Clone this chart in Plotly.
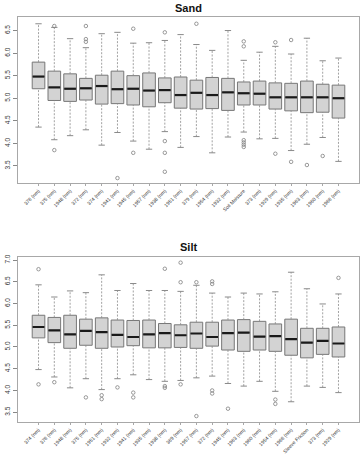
import plotly.graph_objects as go

# ---------------- data ----------------
sand_labels = ["376 (nm)", "375 (nm)", "1948 (nm)", "372 (nm)", "374 (nm)", "1941 (nm)",
               "1945 (nm)", "1957 (nm)", "1938 (nm)", "1951 (nm)", "379 (nm)", "1954 (nm)",
               "1932 (nm)", "Soil Moisture", "373 (nm)", "1929 (nm)", "1935 (nm)",
               "1963 (nm)", "1960 (nm)", "1966 (nm)"]
sand_q1 = [5.21, 4.95, 4.93, 4.96, 4.87, 4.88, 4.85, 4.81, 4.90, 4.78,
           4.76, 4.77, 4.73, 4.85, 4.85, 4.76, 4.72, 4.68, 4.69, 4.56]
sand_med = [5.48, 5.24, 5.21, 5.22, 5.27, 5.20, 5.21, 5.17, 5.18, 5.07,
            5.12, 5.07, 5.13, 5.11, 5.10, 5.02, 5.02, 5.02, 5.02, 5.00]
sand_q3 = [5.80, 5.60, 5.54, 5.44, 5.51, 5.60, 5.50, 5.56, 5.45, 5.47,
           5.40, 5.46, 5.44, 5.36, 5.38, 5.34, 5.33, 5.38, 5.31, 5.29]
sand_low = [4.36, 4.08, 4.17, 4.30, 3.96, 4.24, 4.05, 3.87, 4.26, 3.91,
            4.15, 3.79, 4.14, 4.25, 4.10, 4.11, 3.84, 3.98, 4.13, 3.60]
sand_up = [6.65, 6.57, 6.32, 6.12, 6.43, 6.46, 6.22, 6.23, 6.28, 6.41,
           6.19, 6.06, 6.50, 5.84, 6.02, 6.15, 5.98, 6.33, 5.83, 5.89]
sand_out = [[], [6.60, 3.85], [], [6.60, 6.31, 6.25], [], [3.23], [6.54, 3.79], [],
            [6.46, 4.05, 3.79, 3.37], [], [6.65], [], [],
            [6.26, 6.15, 4.07, 4.02, 3.97, 3.92], [], [6.24, 3.77], [6.29, 3.59],
            [3.52], [3.72], []]

silt_labels = ["374 (nm)", "376 (nm)", "1948 (nm)", "375 (nm)", "1951 (nm)", "1932 (nm)",
               "1941 (nm)", "1935 (nm)", "1938 (nm)", "369 (nm)", "1957 (nm)", "372 (nm)",
               "1945 (nm)", "1963 (nm)", "1960 (nm)", "1954 (nm)", "1966 (nm)",
               "Sleeve Friction", "373 (nm)", "1929 (nm)"]
silt_q1 = [5.21, 5.10, 4.97, 5.04, 4.97, 5.00, 5.03, 4.98, 4.98, 4.99,
           4.97, 5.02, 4.93, 4.90, 4.93, 4.90, 4.81, 4.75, 4.83, 4.77]
silt_med = [5.46, 5.38, 5.29, 5.37, 5.34, 5.28, 5.23, 5.29, 5.32, 5.27,
            5.31, 5.23, 5.32, 5.33, 5.24, 5.25, 5.18, 5.10, 5.14, 5.08]
silt_q3 = [5.73, 5.68, 5.73, 5.64, 5.67, 5.62, 5.61, 5.62, 5.54, 5.51,
           5.57, 5.57, 5.62, 5.63, 5.59, 5.53, 5.64, 5.43, 5.43, 5.46]
silt_low = [4.48, 4.31, 4.06, 4.27, 4.02, 4.27, 4.36, 4.25, 4.21, 4.23,
            4.29, 4.33, 4.16, 4.10, 4.21, 3.98, 3.74, 4.10, 4.07, 3.95]
silt_up = [6.43, 6.15, 6.29, 6.25, 6.66, 6.30, 6.46, 6.30, 6.30, 6.28,
           6.42, 6.24, 6.15, 6.24, 6.22, 6.27, 6.72, 6.34, 5.99, 6.22]
silt_out = [[6.79, 4.14], [4.19], [], [3.84], [3.89, 3.80], [4.07], [3.95, 3.84], [],
            [6.80, 4.10, 4.06], [6.94, 6.49, 4.14], [6.49, 3.41], [6.51, 6.45, 4.00, 3.93],
            [3.58], [], [], [3.79, 3.69], [], [], [], [6.59]]

panel_titles = ["Sand", "Silt"]
sand_ticks = [3.5, 4.0, 4.5, 5.0, 5.5, 6.0, 6.5]
silt_ticks = [3.5, 4.0, 4.5, 5.0, 5.5, 6.0, 6.5, 7.0]

# ---------------- styling ----------------
FONT = "Liberation Sans, Arial, sans-serif"
BOX_FILL = "#D3D3D3"
BOX_LINE = "#777777"
WHISK = "#8A8A8A"
FRAME = "#A8A8A8"
BOXW = 0.8
CAPW = 0.4

fig = go.Figure()


def add_panel(labels, q1, med, q3, low, up, outs, xa, ya):
    n = len(labels)
    xs = list(range(1, n + 1))
    # whiskers (dotted)
    wx, wy = [], []
    for i in range(n):
        wx += [xs[i], xs[i], None, xs[i], xs[i], None]
        wy += [low[i], q1[i], None, q3[i], up[i], None]
    fig.add_trace(go.Scatter(x=wx, y=wy, mode="lines", xaxis=xa, yaxis=ya,
                             line=dict(color=WHISK, width=0.8, dash="2px,1.5px"),
                             hoverinfo="skip", showlegend=False))
    # caps
    cx, cy = [], []
    for i in range(n):
        for v in (low[i], up[i]):
            cx += [xs[i] - CAPW / 2, xs[i] + CAPW / 2, None]
            cy += [v, v, None]
    fig.add_trace(go.Scatter(x=cx, y=cy, mode="lines", xaxis=xa, yaxis=ya,
                             line=dict(color=WHISK, width=1),
                             hoverinfo="skip", showlegend=False))
    # boxes
    fig.add_trace(go.Box(x=xs, q1=q1, median=med, q3=q3, lowerfence=q1, upperfence=q3,
                         xaxis=xa, yaxis=ya, width=BOXW, fillcolor=BOX_FILL,
                         line=dict(color=BOX_LINE, width=1), whiskerwidth=0,
                         boxpoints=False, showlegend=False, hoverinfo="skip"))
    # medians
    mx, my = [], []
    for i in range(n):
        mx += [xs[i] - BOXW / 2 + 0.03, xs[i] + BOXW / 2 - 0.03, None]
        my += [med[i], med[i], None]
    fig.add_trace(go.Scatter(x=mx, y=my, mode="lines", xaxis=xa, yaxis=ya,
                             line=dict(color="#1A1A1A", width=2.2),
                             hoverinfo="skip", showlegend=False))
    # outliers
    ox, oy = [], []
    for i in range(n):
        for v in outs[i]:
            ox.append(xs[i])
            oy.append(v)
    fig.add_trace(go.Scatter(x=ox, y=oy, mode="markers", xaxis=xa, yaxis=ya,
                             marker=dict(symbol="circle-open", size=3.5,
                                         color="#808080", line=dict(width=0.8)),
                             hoverinfo="skip", showlegend=False))


add_panel(sand_labels, sand_q1, sand_med, sand_q3, sand_low, sand_up, sand_out, "x", "y")
add_panel(silt_labels, silt_q1, silt_med, silt_q3, silt_low, silt_up, silt_out, "x2", "y2")

n = len(sand_labels)
common_x = dict(range=[-0.3, n + 1.3], showgrid=False, zeroline=False, automargin=False,
                showline=True, mirror=True, linecolor=FRAME, linewidth=1,
                ticks="outside", ticklen=2, tickcolor=FRAME, tickangle=-45,
                tickfont=dict(family=FONT, size=5, color="#333333"),
                tickvals=list(range(1, n + 1)))
common_y = dict(showgrid=False, zeroline=False, showline=True, mirror=True,
                automargin=False,
                linecolor=FRAME, linewidth=1, ticks="outside", ticklen=4,
                tickcolor="#888888", tickangle=-90, tickformat=".1f",
                tickfont=dict(family=FONT, size=6.5, color="#333333"))

fig.update_layout(
    template="none",
    width=363, height=456,
    margin=dict(l=18, r=4, t=17, b=34, pad=0),
    paper_bgcolor="white", plot_bgcolor="white",
    hovermode=False,
    xaxis=dict(common_x, ticktext=sand_labels, anchor="y"),
    yaxis=dict(common_y, range=[3.12, 6.80], tickvals=sand_ticks,
               domain=[0.590, 1.0], anchor="x"),
    xaxis2=dict(common_x, ticktext=silt_labels, anchor="y2"),
    yaxis2=dict(common_y, range=[3.274, 7.076], tickvals=silt_ticks,
                domain=[0.0, 0.408], anchor="x2"),
    annotations=[
        dict(text="<b>%s</b>" % panel_titles[0], x=0.5, y=1.022, xref="paper",
             yref="paper", xanchor="center", yanchor="middle", showarrow=False,
             font=dict(family=FONT, size=11, color="#111111")),
        dict(text="<b>%s</b>" % panel_titles[1], x=0.5, y=0.432, xref="paper",
             yref="paper", xanchor="center", yanchor="middle", showarrow=False,
             font=dict(family=FONT, size=11, color="#111111")),
    ],
)

fig.write_html("out.html",
               config={"displayModeBar": False, "staticPlot": True},
               post_script="document.body.style.margin='0';document.body.style.overflow='hidden';")
